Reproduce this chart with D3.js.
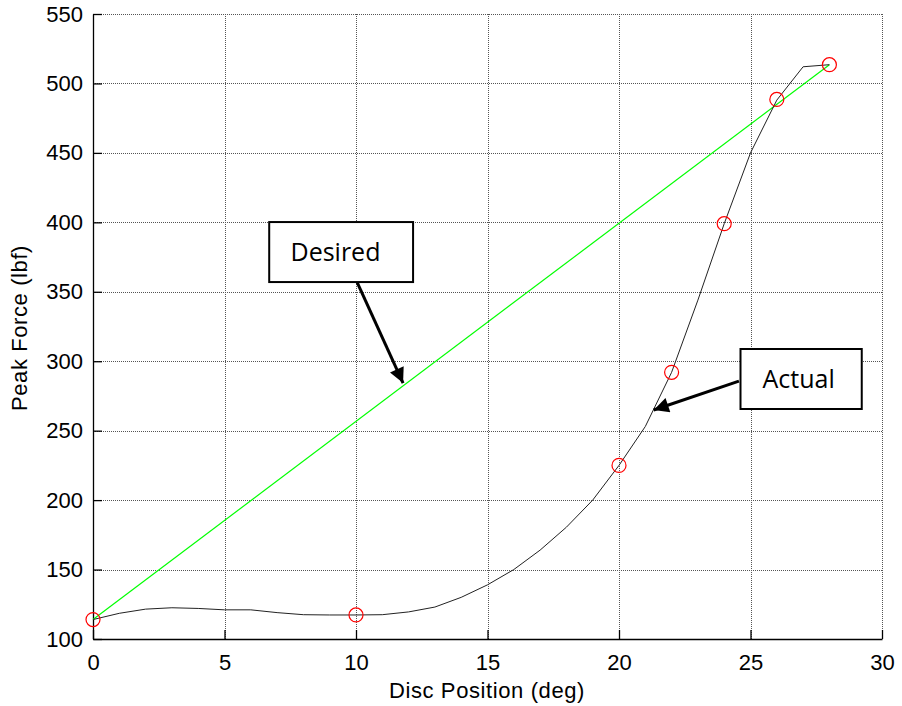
<!DOCTYPE html>
<html>
<head>
<meta charset="utf-8">
<script src="https://cdn.jsdelivr.net/npm/d3@7"></script>
<style>
  body { margin: 0; background: #fff; }
  svg { font-family: "Liberation Sans", Arial, sans-serif; }
  .tick text { font-size: 22px; fill: #000; }
  .label { font-size: 22px; fill: #000; letter-spacing: 0.6px; }
  .note { font-family: "Open Sans", "Noto Sans", sans-serif; font-size: 25px; fill: #000; }
</style>
</head>
<body>
<svg id="chart"></svg>
<script>
// actual force measured at each degree (0..28)
var positions = d3.range(0, 29);
var actualForce = [114, 118.5, 121.5, 122.5, 122, 121, 121, 119, 117.5, 117.3,
                   117.3, 117.5, 119.5, 123, 130, 139, 150, 164, 180.5, 200,
                   225, 253, 292, 344, 399, 450, 488, 512, 513.5];
// circled test points
var testPos = [0, 10, 20, 22, 24, 26, 28];
var testForce = [114, 117.3, 225, 292, 399, 488.5, 513.5];
// desired linear profile (endpoints)
var desiredPos = [0, 28];
var desiredForce = [114, 513.5];

var xTicks = [0, 5, 10, 15, 20, 25, 30];
var yTicks = [100, 150, 200, 250, 300, 350, 400, 450, 500, 550];

var screen = {width: 902, height: 706};
var margins = {top: 14, bottom: 67, left: 93, right: 20};
var graph = {
    width: screen.width - margins.left - margins.right,
    height: screen.height - margins.top - margins.bottom
};

var svg = d3.select("svg#chart")
    .attr("width", screen.width)
    .attr("height", screen.height);

var xScale = d3.scaleLinear().domain([0, 30]).range([0, graph.width]);
var yScale = d3.scaleLinear().domain([100, 550]).range([graph.height, 0]);

var g = svg.append("g")
    .attr("transform", "translate(" + margins.left + "," + margins.top + ")");

// grid
var grid = g.append("g").attr("stroke", "#555").attr("stroke-width", 1)
    .attr("stroke-dasharray", "1,1").attr("shape-rendering", "crispEdges");
grid.selectAll("line.gx").data(xTicks.slice(1)).enter().append("line")
    .attr("x1", function(d) { return Math.round(xScale(d)) + 0.5; })
    .attr("x2", function(d) { return Math.round(xScale(d)) + 0.5; })
    .attr("y1", 0).attr("y2", graph.height);
grid.selectAll("line.gy").data(yTicks.slice(1)).enter().append("line")
    .attr("y1", function(d) { return Math.round(yScale(d)) + 0.5; })
    .attr("y2", function(d) { return Math.round(yScale(d)) + 0.5; })
    .attr("x1", 0).attr("x2", graph.width);

// axes
var xAxis = d3.axisBottom(xScale).tickValues(xTicks).tickSizeInner(-9).tickSizeOuter(0).tickPadding(15);
var yAxis = d3.axisLeft(yScale).tickValues(yTicks).tickSizeInner(-9).tickSizeOuter(0).tickPadding(10);

var xa = g.append("g").attr("transform", "translate(0," + graph.height + ")").call(xAxis);
var ya = g.append("g").call(yAxis);
[xa, ya].forEach(function(a) {
    a.selectAll("path, line").attr("stroke", "#000").attr("stroke-width", 1.3);
    a.attr("font-family", null).attr("font-size", null);
});

// desired line
var line = d3.line()
    .x(function(d) { return xScale(d[0]); })
    .y(function(d) { return yScale(d[1]); });

g.append("path")
    .datum(d3.zip(desiredPos, desiredForce))
    .attr("d", line)
    .attr("fill", "none")
    .attr("stroke", "#00ff00")
    .attr("stroke-width", 1.2);

// actual curve
g.append("path")
    .datum(d3.zip(positions, actualForce))
    .attr("d", line)
    .attr("fill", "none")
    .attr("stroke", "#222")
    .attr("stroke-width", 1);

// test points
g.selectAll("circle.pt")
    .data(d3.zip(testPos, testForce))
    .enter().append("circle")
    .attr("cx", function(d) { return xScale(d[0]); })
    .attr("cy", function(d) { return yScale(d[1]); })
    .attr("r", 7)
    .attr("fill", "none")
    .attr("stroke", "#ff0000")
    .attr("stroke-width", 1.2);

// annotations (data coordinates)
var notes = [
    {text: "Desired", box: [6.7, 12.17, 400.2, 357], from: [10.04, 357], to: [11.79, 284.3], tx: 9.22},
    {text: "Actual", box: [24.62, 29.23, 308.8, 265.6], from: [24.56, 285.7], to: [21.32, 264.9], tx: 26.83}
];

svg.append("defs").append("marker")
    .attr("id", "head")
    .attr("viewBox", "0 0 10 10")
    .attr("refX", 10).attr("refY", 5)
    .attr("markerWidth", 6).attr("markerHeight", 5)
    .attr("markerUnits", "strokeWidth")
    .attr("orient", "auto")
    .append("path").attr("d", "M0,0 L10,5 L0,10 Z").attr("fill", "#000");

var ann = g.selectAll("g.note").data(notes).enter().append("g");
ann.append("line")
    .attr("x1", function(d) { return xScale(d.from[0]); })
    .attr("y1", function(d) { return yScale(d.from[1]); })
    .attr("x2", function(d) { return xScale(d.to[0]); })
    .attr("y2", function(d) { return yScale(d.to[1]); })
    .attr("stroke", "#000").attr("stroke-width", 3)
    .attr("marker-end", "url(#head)");
ann.append("rect")
    .attr("x", function(d) { return xScale(d.box[0]); })
    .attr("y", function(d) { return yScale(d.box[2]); })
    .attr("width", function(d) { return xScale(d.box[1]) - xScale(d.box[0]); })
    .attr("height", function(d) { return yScale(d.box[3]) - yScale(d.box[2]); })
    .attr("fill", "#fff").attr("stroke", "#000").attr("stroke-width", 2);
ann.append("text")
    .classed("note", true)
    .attr("text-anchor", "middle")
    .attr("x", function(d) { return xScale(d.tx); })
    .attr("y", function(d) { return (yScale(d.box[2]) + yScale(d.box[3])) / 2; })
    .attr("dy", "0.36em")
    .text(function(d) { return d.text; });

// axis labels
svg.append("text").classed("label", true)
    .attr("text-anchor", "middle")
    .attr("x", 487).attr("y", 698)
    .text("Disc Position (deg)");
svg.append("g").attr("transform", "translate(27," + 328 + ")")
    .append("text").classed("label", true)
    .attr("text-anchor", "middle")
    .attr("transform", "rotate(-90)")
    .text("Peak Force (lbf)");
</script>
</body>
</html>
